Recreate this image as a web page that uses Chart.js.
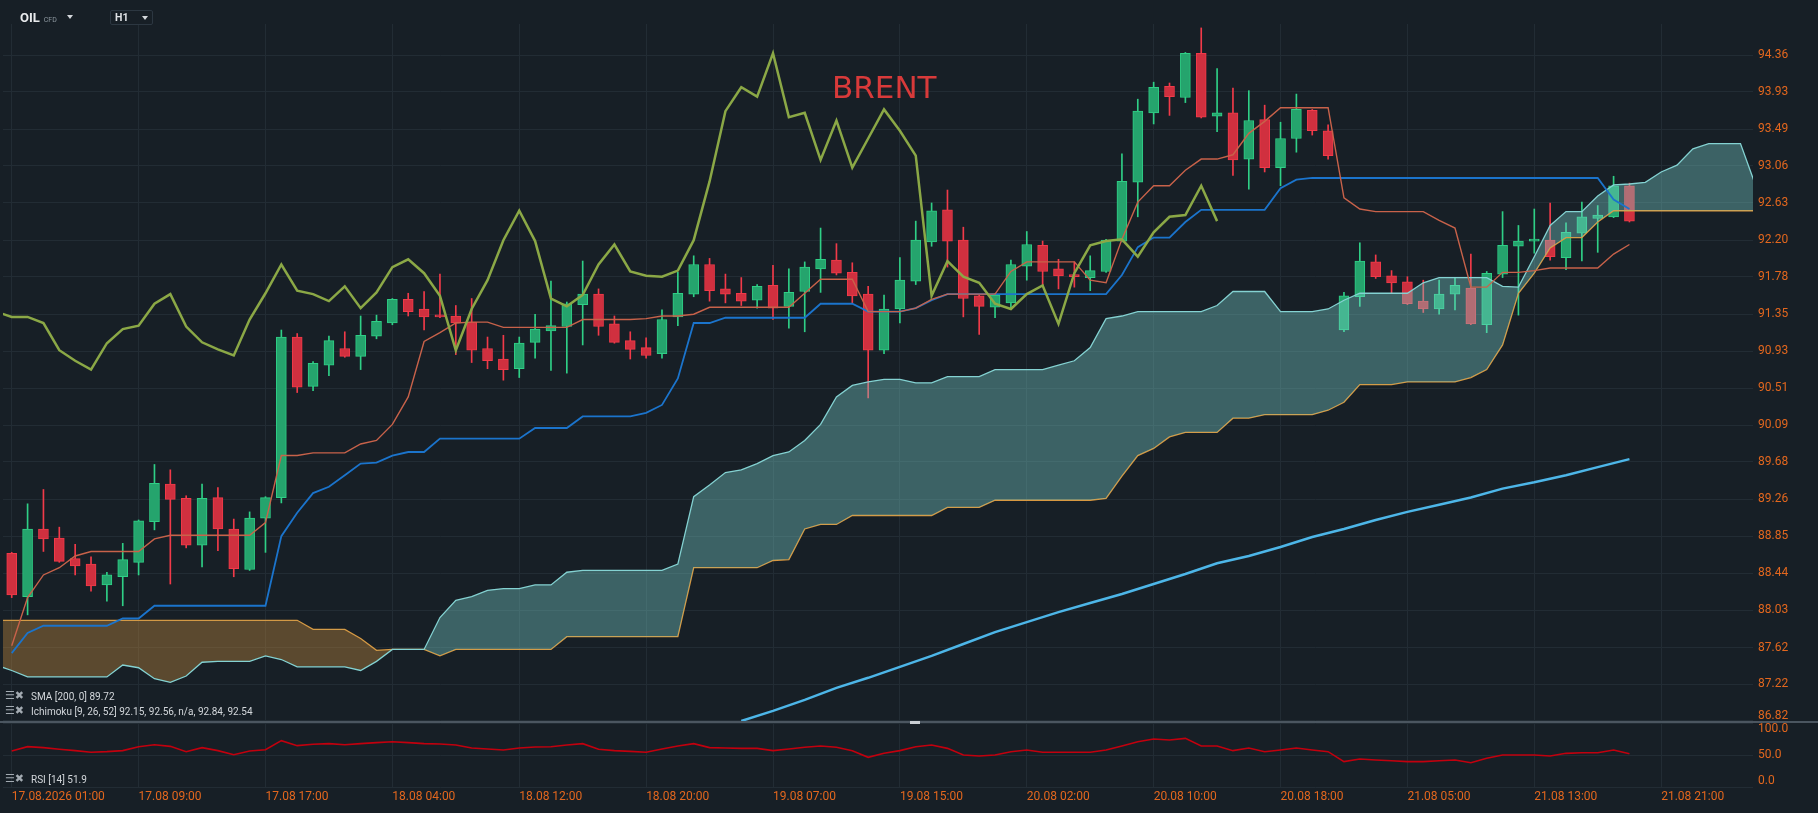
<!DOCTYPE html>
<html lang="en">
<head>
<meta charset="utf-8">
<title>OIL CFD H1</title>
<script src="https://cdn.jsdelivr.net/npm/chart.js@4.4.1/dist/chart.umd.min.js"></script>
<style>
  html, body { margin: 0; padding: 0; background: #171f26; }
  body { position: relative; width: 1818px; height: 813px; overflow: hidden; font-family: Roboto, "DejaVu Sans", sans-serif; }
  .pane { position: absolute; left: 0; width: 1818px; }
  #mainPane { top: 0; height: 722px; }
  #rsiPane { top: 722px; height: 91px; }
  #sep { position: absolute; left: 0; top: 721px; width: 1818px; height: 2px; background: #4b5660; }
  #handle { position: absolute; left: 910px; top: 721px; width: 10px; height: 3px; background: #c9ced3; }
  .abs { position: absolute; white-space: nowrap; }
  #sym { left: 20px; top: 10px; color: #e8eaec; font: bold 13px Roboto; line-height: 16px; }
  #sym small { font: 7px Roboto; color: #8d979f; margin-left: 4px; }
  .tri { position: absolute; width: 0; height: 0; border-left: 3.5px solid transparent; border-right: 3.5px solid transparent; border-top: 4px solid #d4d8dc; }
  #tf { left: 110px; top: 10px; width: 41px; height: 13px; border: 1px solid #2c3741; border-radius: 2px; }
  #tf span { position: absolute; left: 4px; top: 0; color: #e0e3e6; font: bold 10.5px Roboto; line-height: 13px; }
  .leg { left: 31px; color: #d3d7db; font: 10px Roboto; line-height: 12px; }
  .ic { left: 5px; color: #a3abb2; font: bold 11px "DejaVu Sans"; line-height: 12px; letter-spacing: 0; }
  #brent { left: 832px; top: 72px; color: #d83a3a; font: 31px "DejaVu Sans"; line-height: 31px; }
</style>
</head>
<body>
<div class="pane" id="mainPane"><canvas id="mainChart"></canvas></div>
<div class="pane" id="rsiPane"><canvas id="rsiChart"></canvas></div>
<div id="sep"></div>
<div id="handle"></div>

<div class="abs" id="sym">OIL<small>CFD</small></div>
<div class="tri" style="left:67px;top:15px"></div>
<div class="abs" id="tf"><span>H1</span></div>
<div class="tri" style="left:142px;top:16px"></div>
<div class="abs" id="brent">BRENT</div>

<div class="abs ic" style="top:690px">☰✖</div>
<div class="abs leg" style="top:691px">SMA [200, 0] 89.72</div>
<div class="abs ic" style="top:705px">☰✖</div>
<div class="abs leg" style="top:706px">Ichimoku [9, 26, 52] 92.15, 92.56, n/a, 92.84, 92.54</div>
<div class="abs ic" style="top:773px">☰✖</div>
<div class="abs leg" style="top:774px">RSI [14] 51.9</div>

<script>
// hourly bars, index 0 = 17.08.2026 01:00
const timeLabels = ['17.08.2026 01:00', '17.08 09:00', '17.08 17:00', '18.08 04:00', '18.08 12:00',
  '18.08 20:00', '19.08 07:00', '19.08 15:00', '20.08 02:00', '20.08 10:00', '20.08 18:00',
  '21.08 05:00', '21.08 13:00', '21.08 21:00'];
const labelBars = [0, 8, 16, 24, 32, 40, 48, 56, 64, 72, 80, 88, 96, 104];

const priceLabels = ['86.82', '87.22', '87.62', '88.03', '88.44', '88.85', '89.26', '89.68', '90.09',
  '90.51', '90.93', '91.35', '91.78', '92.20', '92.63', '93.06', '93.49', '93.93', '94.36'];
const rsiTicks = [0, 50, 100];

const opens = [88.66, 88.18, 88.93, 88.83, 88.60, 88.54, 88.31, 88.40, 88.56, 89.01,
  89.43, 89.27, 88.75, 89.28, 88.93, 88.48, 89.05, 89.28, 91.09, 90.53,
  90.77, 90.96, 90.87, 91.10, 91.25, 91.52, 91.41, 91.34, 91.33, 91.26,
  90.96, 90.84, 90.73, 91.03, 91.16, 91.21, 91.46, 91.58, 91.24, 91.05,
  90.97, 90.90, 91.32, 91.58, 91.92, 91.64, 91.59, 91.51, 91.68, 91.44,
  91.61, 91.87, 91.97, 91.83, 91.58, 90.94, 91.41, 91.73, 92.18, 92.55,
  92.20, 91.56, 91.43, 91.48, 91.90, 92.14, 91.87, 91.80, 91.77, 91.84,
  92.19, 92.87, 93.68, 93.99, 93.86, 94.38, 93.64, 93.68, 93.14, 93.60,
  93.04, 93.38, 93.71, 93.47, 91.17, 91.55, 91.95, 91.79, 91.72, 91.50,
  91.41, 91.58, 91.65, 91.23, 91.81, 92.13, 92.19, 92.20, 92.00, 92.28,
  92.45, 92.47, 92.83];
const highs = [88.67, 89.21, 89.37, 88.95, 88.76, 88.62, 88.45, 88.77, 89.03, 89.65,
  89.59, 89.30, 89.43, 89.39, 89.04, 89.12, 89.29, 91.17, 91.13, 90.81,
  91.10, 91.15, 91.33, 91.34, 91.53, 91.59, 91.61, 91.81, 91.45, 91.53,
  91.09, 91.11, 91.09, 91.35, 91.73, 91.49, 91.96, 91.64, 91.33, 91.15,
  91.08, 91.40, 91.83, 92.02, 91.99, 91.81, 91.77, 91.69, 91.91, 91.87,
  91.95, 92.34, 92.16, 91.94, 91.67, 91.57, 92.00, 92.42, 92.63, 92.78,
  92.35, 91.57, 91.59, 91.97, 92.30, 92.19, 91.98, 91.95, 92.02, 92.21,
  93.20, 93.84, 94.04, 94.03, 94.39, 94.68, 94.20, 93.97, 93.94, 93.77,
  93.57, 93.90, 93.72, 93.54, 91.60, 92.17, 92.03, 91.85, 91.78, 91.74,
  91.74, 91.77, 92.04, 91.84, 92.53, 92.37, 92.56, 92.63, 92.40, 92.64,
  92.60, 92.94, 92.86];
const lows = [88.17, 87.98, 88.68, 88.56, 88.42, 88.24, 88.13, 88.08, 88.42, 88.92,
  88.32, 88.72, 88.51, 88.69, 88.40, 88.47, 88.67, 89.22, 90.46, 90.48,
  90.65, 90.86, 90.72, 91.07, 91.23, 91.33, 91.17, 91.31, 90.89, 90.80,
  90.73, 90.60, 90.63, 90.85, 90.71, 90.68, 91.00, 91.11, 91.02, 90.84,
  90.85, 90.85, 91.22, 91.55, 91.50, 91.48, 91.45, 91.42, 91.29, 91.19,
  91.15, 91.60, 91.80, 91.48, 90.40, 90.90, 91.25, 91.69, 92.13, 91.89,
  91.32, 91.12, 91.31, 91.42, 91.74, 91.67, 91.64, 91.66, 91.62, 91.83,
  92.18, 92.47, 93.55, 93.65, 93.80, 93.62, 93.46, 92.95, 92.79, 92.99,
  92.83, 93.22, 93.42, 93.14, 91.15, 91.44, 91.76, 91.59, 91.46, 91.37,
  91.35, 91.40, 91.23, 91.14, 91.77, 91.34, 92.05, 91.97, 91.86, 91.96,
  92.06, 92.46, 92.41];
const closes = [88.20, 88.93, 88.82, 88.57, 88.52, 88.30, 88.42, 88.59, 89.02, 89.44,
  89.26, 88.75, 89.27, 88.93, 88.49, 89.05, 89.28, 91.09, 90.52, 90.79,
  91.05, 90.87, 91.11, 91.27, 91.52, 91.38, 91.32, 91.32, 91.25, 90.94,
  90.82, 90.72, 91.02, 91.18, 91.22, 91.47, 91.58, 91.21, 91.03, 90.95,
  90.88, 91.29, 91.59, 91.92, 91.62, 91.58, 91.50, 91.67, 91.42, 91.60,
  91.89, 91.98, 91.82, 91.56, 90.94, 91.41, 91.74, 92.20, 92.54, 92.19,
  91.53, 91.44, 91.57, 91.92, 92.15, 91.84, 91.79, 91.78, 91.85, 92.20,
  92.88, 93.70, 93.98, 93.87, 94.38, 93.63, 93.68, 93.13, 93.59, 93.04,
  93.38, 93.72, 93.47, 93.18, 91.56, 91.96, 91.78, 91.71, 91.47, 91.41,
  91.58, 91.68, 91.24, 91.82, 92.14, 92.19, 92.21, 92.01, 92.29, 92.47,
  92.49, 92.83, 92.42];

// Ichimoku conversion / base lines, one value per bar
const tenkan = [87.64, 88.17, 88.42, 88.50, 88.63, 88.68, 88.68, 88.68, 88.68, 88.82,
  88.86, 88.86, 88.86, 88.86, 88.86, 88.86, 89.00, 89.75, 89.75, 89.78,
  89.78, 89.78, 89.88, 89.92, 90.10, 90.41, 91.04, 91.14, 91.25, 91.26,
  91.26, 91.20, 91.20, 91.20, 91.20, 91.20, 91.29, 91.29, 91.29, 91.29,
  91.30, 91.33, 91.33, 91.35, 91.43, 91.43, 91.43, 91.43, 91.43, 91.43,
  91.59, 91.75, 91.75, 91.75, 91.38, 91.38, 91.38, 91.42, 91.52, 91.58,
  91.58, 91.58, 91.58, 91.84, 91.95, 91.95, 91.95, 91.95, 91.74, 91.71,
  92.21, 92.64, 92.83, 92.83, 93.01, 93.14, 93.14, 93.19, 93.44, 93.58,
  93.74, 93.74, 93.74, 93.74, 92.69, 92.56, 92.53, 92.53, 92.53, 92.53,
  92.43, 92.34, 91.66, 91.66, 91.83, 91.83, 91.85, 91.88, 91.88, 91.88,
  91.88, 92.04, 92.15];
const kijun = [87.56, 87.78, 87.86, 87.86, 87.86, 87.86, 87.86, 87.94, 87.94, 88.08,
  88.08, 88.08, 88.08, 88.08, 88.08, 88.08, 88.08, 88.85, 89.11, 89.33,
  89.40, 89.53, 89.66, 89.67, 89.75, 89.79, 89.79, 89.94, 89.94, 89.94,
  89.94, 89.94, 89.94, 90.06, 90.06, 90.06, 90.19, 90.19, 90.19, 90.19,
  90.23, 90.32, 90.62, 91.25, 91.25, 91.31, 91.31, 91.31, 91.31, 91.31,
  91.31, 91.47, 91.47, 91.47, 91.38, 91.38, 91.38, 91.42, 91.51, 91.58,
  91.58, 91.58, 91.58, 91.58, 91.58, 91.58, 91.58, 91.58, 91.58, 91.58,
  91.80, 92.12, 92.23, 92.23, 92.41, 92.55, 92.55, 92.55, 92.55, 92.55,
  92.80, 92.90, 92.92, 92.92, 92.92, 92.92, 92.92, 92.92, 92.92, 92.92,
  92.92, 92.92, 92.92, 92.92, 92.92, 92.92, 92.92, 92.92, 92.92, 92.92,
  92.92, 92.67, 92.56];

// cloud spans, first value sits on bar -1, the last ones run past the final candle
const spanStart = -1;
const spanA = [87.43,
  87.37, 87.30, 87.30, 87.30, 87.30, 87.30, 87.30, 87.43, 87.40, 87.28,
  87.24, 87.31, 87.46, 87.47, 87.47, 87.47, 87.53, 87.49, 87.41, 87.41,
  87.41, 87.41, 87.37, 87.47, 87.60, 87.60, 87.60, 87.95, 88.14, 88.18,
  88.25, 88.27, 88.27, 88.31, 88.31, 88.45, 88.47, 88.47, 88.47, 88.47,
  88.47, 88.47, 88.54, 89.29, 89.42, 89.56, 89.59, 89.66, 89.75, 89.79,
  89.92, 90.10, 90.41, 90.54, 90.58, 90.61, 90.61, 90.57, 90.57, 90.64,
  90.64, 90.64, 90.72, 90.72, 90.72, 90.72, 90.77, 90.82, 90.97, 91.30,
  91.33, 91.38, 91.38, 91.38, 91.38, 91.38, 91.45, 91.61, 91.61, 91.61,
  91.38, 91.38, 91.38, 91.41, 91.51, 91.59, 91.59, 91.59, 91.59, 91.71,
  91.77, 91.77, 91.77, 91.77, 91.67, 91.66, 92.01, 92.37, 92.53, 92.53,
  92.71, 92.84, 92.85, 92.87, 92.99, 93.07, 93.26, 93.32, 93.32, 93.32,
  92.81];
const spanB = [87.92,
  87.92, 87.92, 87.92, 87.92, 87.92, 87.92, 87.92, 87.92, 87.92, 87.92,
  87.92, 87.92, 87.92, 87.92, 87.92, 87.92, 87.92, 87.92, 87.92, 87.82,
  87.82, 87.82, 87.72, 87.59, 87.60, 87.60, 87.60, 87.53, 87.60, 87.60,
  87.60, 87.60, 87.60, 87.60, 87.60, 87.74, 87.74, 87.74, 87.74, 87.74,
  87.74, 87.74, 87.74, 88.50, 88.50, 88.50, 88.50, 88.50, 88.58, 88.59,
  88.93, 88.98, 88.98, 89.08, 89.08, 89.08, 89.08, 89.08, 89.08, 89.17,
  89.17, 89.17, 89.25, 89.25, 89.25, 89.25, 89.25, 89.25, 89.25, 89.27,
  89.52, 89.75, 89.83, 89.96, 90.01, 90.01, 90.01, 90.17, 90.17, 90.21,
  90.21, 90.21, 90.21, 90.26, 90.35, 90.55, 90.55, 90.55, 90.58, 90.58,
  90.58, 90.58, 90.63, 90.72, 91.00, 91.59, 91.82, 92.11, 92.23, 92.23,
  92.41, 92.54, 92.54, 92.54, 92.54, 92.54, 92.54, 92.54, 92.54, 92.54,
  92.54];

// SMA 200, read every second bar (enters from below the panel)
const smaBars = [46, 48, 50, 52, 54, 56, 58, 60, 62, 64, 66, 68, 70, 72, 74,
  76, 78, 80, 82, 84, 86, 88, 90, 92, 94, 96, 98, 100, 102];
const smaValues = [86.82, 86.93, 87.05, 87.18, 87.29, 87.41, 87.53, 87.66, 87.79, 87.90,
  88.01, 88.11, 88.21, 88.32, 88.43, 88.55, 88.63, 88.73, 88.84, 88.93,
  89.03, 89.12, 89.20, 89.28, 89.38, 89.45, 89.53, 89.62, 89.71];

const rsi = [56.2, 63.0, 61.5, 58.9, 56.8, 54.2, 55.2, 56.8, 63.0, 66.1,
  63.5, 55.2, 61.5, 56.8, 50.5, 56.2, 58.3, 72.4, 64.6, 66.7,
  67.7, 66.1, 67.7, 69.3, 70.8, 69.3, 67.7, 67.2, 65.6, 60.9,
  59.4, 57.8, 60.9, 62.5, 63.0, 65.6, 67.7, 58.9, 56.8, 55.7,
  54.2, 59.4, 64.1, 67.7, 61.5, 60.9, 60.4, 60.4, 56.8, 59.4,
  62.0, 64.1, 62.0, 56.8, 46.4, 52.6, 56.8, 63.0, 65.6, 60.4,
  50.0, 48.4, 50.0, 55.2, 57.8, 54.2, 54.2, 54.2, 54.2, 57.8,
  64.1, 70.8, 75.0, 73.4, 76.0, 64.1, 64.1, 56.8, 60.9, 55.2,
  57.8, 60.9, 57.8, 55.2, 39.6, 43.8, 42.2, 41.1, 39.6, 39.6,
  41.1, 42.2, 38.0, 44.8, 50.0, 50.0, 50.0, 48.4, 52.6, 53.6,
  53.6, 57.8, 51.9];

const CHIKOU_SHIFT = 26;

// colours
const GRID = '#222c34';
const AXIS = '#e3671e';
const UP_FILL = '#25a46d', UP_LINE = '#2fcf86';
const DOWN_FILL = '#d0303f', DOWN_LINE = '#f13a49';

// view window in bars, so the grid lands where the original has it
const X_MIN = -0.55, X_MAX = 109.79;
const Y_MIN = 86.809, Y_MAX = 94.7265;

Chart.defaults.font.family = 'Roboto, "DejaVu Sans", sans-serif';
Chart.defaults.font.size = 12;

const toPoints = (values, start) => values.map((v, i) => ({ x: i + start, y: v }));
const isUp = i => closes[i] >= opens[i];

// edge tick labels are pulled inside the panel, like the original platform does
const edgeLabels = {
  id: 'edgeLabels',
  afterDraw(chart, args, opts) {
    const scale = chart.scales.y;
    const area = chart.chartArea;
    const ctx = chart.ctx;
    ctx.save();
    ctx.font = '12px Roboto, "DejaVu Sans", sans-serif';
    ctx.fillStyle = AXIS;
    ctx.textAlign = 'left';
    ctx.textBaseline = 'middle';
    opts.items.forEach(([value, text]) => {
      let y = scale.getPixelForValue(value);
      y = Math.min(Math.max(y, area.top + 6), area.bottom - 6);
      ctx.fillText(text, scale.left + 5, y);
    });
    ctx.restore();
  }
};

function xScale(showLabels) {
  return {
    type: 'linear',
    min: X_MIN,
    max: X_MAX,
    bounds: 'data',
    offset: false,
    grid: { color: GRID, drawTicks: false, offset: false },
    border: { display: false },
    ticks: {
      display: showLabels,
      color: AXIS,
      padding: 3,
      align: 'start',
      maxRotation: 0,
      autoSkip: false,
      callback: (v, i) => timeLabels[i]
    },
    afterBuildTicks: s => { s.ticks = labelBars.map(v => ({ value: v })); },
    afterFit: s => {
      s.height = showLabels ? 26 : 0;
      s.paddingLeft = 0;
      s.paddingRight = 0;
    }
  };
}

const baseOptions = {
  responsive: true,
  maintainAspectRatio: false,
  animation: false,
  events: []
};

new Chart(document.getElementById('mainChart'), {
  type: 'line',
  data: {
    datasets: [
      {
        label: 'Chikou',
        data: closes.slice(CHIKOU_SHIFT - 1).map((c, k) => ({ x: k - 1, y: c })),
        borderColor: '#8ba846',
        borderWidth: 2.5,
        pointRadius: 0,
        order: 1
      },
      {
        label: 'Tenkan',
        data: toPoints(tenkan, 0),
        borderColor: '#c8624a',
        borderWidth: 1.4,
        pointRadius: 0,
        order: 2
      },
      {
        label: 'Kijun',
        data: toPoints(kijun, 0),
        borderColor: '#1b74cc',
        borderWidth: 1.8,
        pointRadius: 0,
        order: 3
      },
      {
        label: 'SMA 200',
        data: smaBars.map((b, i) => ({ x: b, y: smaValues[i] })),
        borderColor: '#4db6e8',
        borderWidth: 2.5,
        pointRadius: 0,
        order: 4
      },
      {
        label: 'Span A',
        data: toPoints(spanA, spanStart),
        borderColor: '#84d2d2',
        borderWidth: 1.3,
        pointRadius: 0,
        fill: { target: '+1', above: 'rgba(125,215,210,0.37)', below: 'rgba(209,147,62,0.37)' },
        order: 5
      },
      {
        label: 'Span B',
        data: toPoints(spanB, spanStart),
        borderColor: '#dc983e',
        borderWidth: 1.3,
        pointRadius: 0,
        fill: false,
        order: 6
      },
      {
        type: 'bar',
        label: 'Body',
        data: opens.map((o, i) => ({ x: i, y: [o, closes[i]] })),
        backgroundColor: c => isUp(c.dataIndex) ? UP_FILL : DOWN_FILL,
        borderColor: c => isUp(c.dataIndex) ? UP_LINE : DOWN_LINE,
        borderWidth: 1,
        borderSkipped: false,
        barThickness: 10,
        minBarLength: 2,
        grouped: false,
        order: 7
      },
      {
        type: 'bar',
        label: 'Wick',
        data: lows.map((l, i) => ({ x: i, y: [l, highs[i]] })),
        backgroundColor: c => isUp(c.dataIndex) ? UP_LINE : DOWN_LINE,
        borderWidth: 0,
        barThickness: 1,
        grouped: false,
        order: 8
      }
    ]
  },
  options: {
    ...baseOptions,
    layout: { padding: { left: 3, top: 24, right: 0, bottom: 0 } },
    plugins: {
      legend: { display: false },
      tooltip: { enabled: false },
      edgeLabels: { items: [[86.82, '86.82']] }
    },
    scales: {
      x: xScale(false),
      y: {
        type: 'logarithmic',
        position: 'right',
        min: Y_MIN,
        max: Y_MAX,
        bounds: 'data',
        grid: { color: GRID, drawTicks: false },
        border: { display: false },
        ticks: {
          padding: 5,
          color: c => c.index === 0 ? 'transparent' : AXIS,
          callback: (v, i) => priceLabels[i]
        },
        afterBuildTicks: s => { s.ticks = priceLabels.map(t => ({ value: Number(t) })); },
        afterFit: s => {
          s.width = 65;
          s.paddingTop = 0;
          s.paddingBottom = 0;
        }
      }
    }
  },
  plugins: [edgeLabels]
});

new Chart(document.getElementById('rsiChart'), {
  type: 'line',
  data: {
    datasets: [{
      label: 'RSI 14',
      data: toPoints(rsi, 0),
      borderColor: '#c2000e',
      borderWidth: 1.6,
      pointRadius: 0
    }]
  },
  options: {
    ...baseOptions,
    layout: { padding: { left: 3, top: 1, right: 0, bottom: 0 } },
    plugins: {
      legend: { display: false },
      tooltip: { enabled: false },
      edgeLabels: { items: [[100, '100.0'], [0, '0.0']] }
    },
    scales: {
      x: xScale(true),
      y: {
        position: 'right',
        min: 0,
        max: 100,
        grid: { color: GRID, drawTicks: false },
        border: { display: false },
        ticks: {
          padding: 5,
          color: c => c.tick.value === 50 ? AXIS : 'transparent',
          callback: v => v.toFixed(1)
        },
        afterBuildTicks: s => { s.ticks = rsiTicks.map(v => ({ value: v })); },
        afterFit: s => {
          s.width = 65;
          s.paddingTop = 0;
          s.paddingBottom = 0;
        }
      }
    }
  },
  plugins: [edgeLabels]
});
</script>
</body>
</html>
